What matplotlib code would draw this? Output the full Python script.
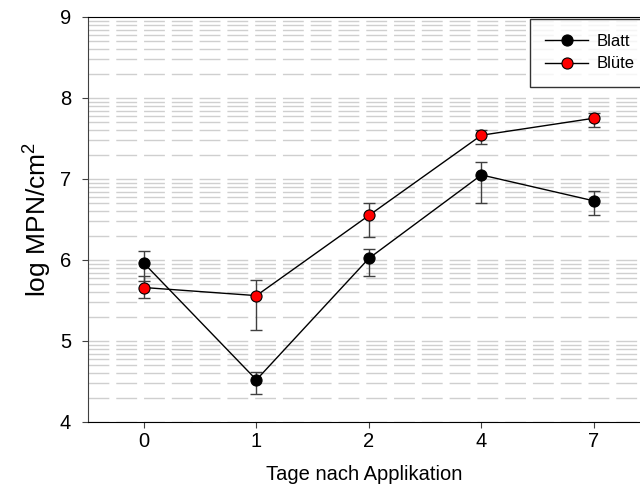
import matplotlib
matplotlib.use("Agg")
import matplotlib.pyplot as plt
import numpy as np

plt.rcParams['font.family'] = ['Liberation Sans', 'DejaVu Sans']
plt.rcParams['mathtext.fontset'] = 'custom'
plt.rcParams['mathtext.rm'] = 'Liberation Sans'
plt.rcParams['mathtext.it'] = 'Liberation Sans'

# days after application (categorical axis)
tage = ['0', '1', '2', '4', '7']

blatt = [5.96, 4.52, 6.02, 7.05, 6.73]
blatt_lo = [0.22, 0.17, 0.22, 0.35, 0.17]
blatt_hi = [0.15, 0.10, 0.12, 0.16, 0.12]

bluete = [5.66, 5.56, 6.55, 7.54, 7.75]
bluete_lo = [0.13, 0.43, 0.27, 0.11, 0.11]
bluete_hi = [0.14, 0.19, 0.15, 0.06, 0.07]

x = np.arange(len(tage))

fig = plt.figure(figsize=(6.4, 4.95), dpi=100)
ax = fig.add_axes([0.137, 0.1475, 0.863, 0.8182])

# log-style minor grid inside each unit
grid_y = [n + np.log10(k) for n in range(4, 9) for k in range(1, 10)]
for gy in grid_y:
    ax.axhline(gy, color='#cfcfcf', lw=1.0, dashes=(15, 5), zorder=0)

ax.errorbar(x, blatt, yerr=[blatt_lo, blatt_hi], fmt='none', ecolor='#404040',
            elinewidth=1, capsize=4, capthick=1, zorder=2)
ax.errorbar(x, bluete, yerr=[bluete_lo, bluete_hi], fmt='none', ecolor='#404040',
            elinewidth=1, capsize=4, capthick=1, zorder=2)
ax.plot(x, blatt, color='black', lw=1, marker='o', ms=8, mfc='black',
        mec='black', mew=0.8, label='Blatt', zorder=3)
ax.plot(x, bluete, color='black', lw=1, marker='o', ms=8, mfc='red',
        mec='black', mew=0.8, label='Blüte', zorder=3)

ax.set_xlim(-0.5, 4.41)
ax.set_ylim(4, 9)
ax.set_xticks(x)
ax.set_xticklabels(tage)
ax.set_yticks(range(4, 10))
ax.tick_params(labelsize=14.5, length=4, color='#404040', direction='out')
ax.tick_params(axis='y', pad=8)
ax.spines['right'].set_visible(False)
ax.spines['left'].set_color('#404040')

ax.set_xlabel('Tage nach Applikation', fontsize=14.5, labelpad=10)
ax.set_ylabel('log MPN/cm$^{2}$', fontsize=19, labelpad=4.5)

leg = fig.legend(loc='upper left', bbox_to_anchor=(530 / 640, 1 - 19 / 495),
                 fontsize=12, frameon=True, fancybox=False, handlelength=2.6,
                 handletextpad=0.5, borderpad=0.9, labelspacing=0.45,
                 borderaxespad=0)
leg.get_frame().set_edgecolor('black')
leg.get_frame().set_linewidth(1)

fig.savefig('out.png', dpi=100)
